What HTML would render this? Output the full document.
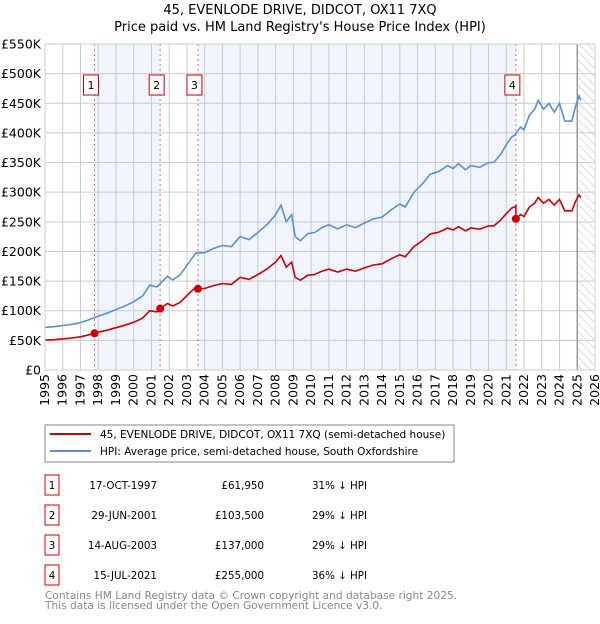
<!DOCTYPE html>
<html><head><meta charset="utf-8"><style>
body{margin:0;background:#fff;font-family:"DejaVu Sans","Liberation Sans",sans-serif;}
svg text{font-family:"DejaVu Sans","Liberation Sans",sans-serif;}
</style></head><body>
<svg id="c" width="600" height="620" xmlns="http://www.w3.org/2000/svg">
<defs><pattern id="hatch" width="6" height="6" patternUnits="userSpaceOnUse" patternTransform="rotate(-45)"><line x1="0" y1="0" x2="0" y2="6" stroke="#bbb" stroke-width="1"/></pattern></defs>
<text x="300" y="14" text-anchor="middle" font-size="13" fill="#000">45, EVENLODE DRIVE, DIDCOT, OX11 7XQ</text>
<text x="300" y="31" text-anchor="middle" font-size="13" fill="#000">Price paid vs. HM Land Registry's House Price Index (HPI)</text>
<g id="plot"></g>
<rect x="45" y="425" width="409" height="37" fill="#fff" stroke="#888"/>
<line x1="50" y1="434" x2="91" y2="434" stroke="#cc0000" stroke-width="2"/>
<text x="100" y="438" font-size="10.5">45, EVENLODE DRIVE, DIDCOT, OX11 7XQ (semi-detached house)</text>
<line x1="50" y1="451" x2="91" y2="451" stroke="#5b8fd4" stroke-width="2"/>
<text x="100" y="455" font-size="10.5">HPI: Average price, semi-detached house, South Oxfordshire</text>
<g id="table" font-size="10.3"></g>
<text x="45" y="599" font-size="10.6" fill="#888">Contains HM Land Registry data © Crown copyright and database right 2025.</text>
<text x="45" y="609" font-size="10.6" fill="#888">This data is licensed under the Open Government Licence v3.0.</text>
</svg>
<script>
const hpiYears=[1995,1995.5,1996,1996.5,1997,1997.5,1998,1998.5,1999,1999.5,2000,2000.5,2000.9,2001.3,2001.9,2002.2,2002.6,2003.2,2003.5,2004,2004.5,2005,2005.5,2006,2006.5,2007,2007.5,2008,2008.3,2008.6,2008.9,2009.1,2009.4,2009.8,2010.2,2010.6,2011,2011.5,2012,2012.5,2013,2013.5,2014,2014.5,2015,2015.3,2015.8,2016.3,2016.7,2017.2,2017.7,2018,2018.3,2018.7,2019,2019.5,2020,2020.3,2020.7,2021,2021.3,2021.5,2021.8,2022,2022.3,2022.6,2022.8,2023.1,2023.4,2023.7,2024,2024.3,2024.7,2024.9,2025.1,2025.2];
const hpiValues=[72,73,75,77,80,85,91,96,102,108,115,125,143,140,158,152,160,185,197,198,205,210,208,225,220,232,245,262,278,250,262,225,218,230,232,240,245,238,245,240,248,255,258,270,280,275,300,315,330,335,345,340,348,338,345,342,350,350,365,380,393,397,410,405,430,440,455,440,450,435,450,420,420,445,462,455];
const saleDates=[1997.79,2001.49,2003.62,2021.54];
const salePrices=[61950,103500,137000,255000];
const saleLabels=["1","2","3","4"];
const saleDateText=["17-OCT-1997","29-JUN-2001","14-AUG-2003","15-JUL-2021"];
const salePriceText=["£61,950","£103,500","£137,000","£255,000"];
const saleHpiText=["31% ↓ HPI","29% ↓ HPI","29% ↓ HPI","36% ↓ HPI"];
const yTicks=[0,50000,100000,150000,200000,250000,300000,350000,400000,450000,500000,550000];
const yTickLabels=["£0","£50K","£100K","£150K","£200K","£250K","£300K","£350K","£400K","£450K","£500K","£550K"];
const xTicks=[1995,1996,1997,1998,1999,2000,2001,2002,2003,2004,2005,2006,2007,2008,2009,2010,2011,2012,2013,2014,2015,2016,2017,2018,2019,2020,2021,2022,2023,2024,2025,2026];

const NS="http://www.w3.org/2000/svg";
const X0=45,X1=595,Y0=370,Y1=44;
const x=t=>X0+(t-1995)*(X1-X0)/31;
const y=v=>Y0-v*(Y0-Y1)/550000;
const plot=document.getElementById('plot');
function mk(tag,attrs,parent){const e=document.createElementNS(NS,tag);for(const k in attrs)e.setAttribute(k,attrs[k]);(parent||plot).appendChild(e);return e;}
function hpiAt(t){for(let i=1;i<hpiYears.length;i++){if(t<=hpiYears[i]){const f=(t-hpiYears[i-1])/(hpiYears[i]-hpiYears[i-1]);return (hpiValues[i-1]+f*(hpiValues[i]-hpiValues[i-1]))*1000;}}return hpiValues[hpiValues.length-1]*1000;}

mk('rect',{x:X0,y:Y1,width:X1-X0,height:Y0-Y1,fill:'#fff'});
for(let i=0;i<saleDates.length;i+=2){const e=i+1<saleDates.length?saleDates[i+1]:2025;
const r=mk('rect',{x:x(saleDates[i]),y:Y1,width:x(e)-x(saleDates[i]),height:Y0-Y1,fill:'#f0f4fd'});

}
const h=mk('rect',{x:x(2025),y:Y1,width:X1-x(2025),height:Y0-Y1,fill:'url(#hatch)'});


xTicks.forEach(t=>{mk('line',{x1:x(t),y1:Y1,x2:x(t),y2:Y0,stroke:'#ccc'});
const tx=mk('text',{x:0,y:0,transform:`translate(${x(t)+4},${Y0+4}) rotate(-90)`,'text-anchor':'end','font-size':12.5});tx.textContent=t;

});
yTicks.forEach((v,i)=>{mk('line',{x1:X0,y1:y(v),x2:X1,y2:y(v),stroke:'#ccc'});
const tx=mk('text',{x:X0-4,y:y(v)+4.5,'text-anchor':'end','font-size':12.5});tx.textContent=yTickLabels[i];

});
mk('line',{x1:x(2025),y1:Y1,x2:x(2025),y2:Y0,stroke:'#999','stroke-width':1.5});
saleDates.forEach((d,i)=>{
 const l=mk('line',{x1:x(d),y1:Y1,x2:x(d),y2:Y0,stroke:'#e66','stroke-dasharray':'2,3'});
 
 
 const b=mk('rect',{x:x(d)-11,y:75,width:15,height:20,fill:'#fff',stroke:'#cc0000'});
 
 
 const t=mk('text',{x:x(d)-3.5,y:89,'text-anchor':'middle','font-size':11});t.textContent=saleLabels[i];
 
 
});
let p='';hpiYears.forEach((t,i)=>{p+=(i?'L':'M')+x(t).toFixed(1)+','+y(hpiValues[i]*1000).toFixed(1);});
const hl=mk('path',{d:p,fill:'none',stroke:'#5b8fd4','stroke-width':1.6});


const ratios=saleDates.map((d,i)=>salePrices[i]/hpiAt(d));
function ratioAt(t){let r=ratios[0];saleDates.forEach((d,i)=>{if(t>=d)r=ratios[i];});return r;}
let pts=[];hpiYears.forEach((t,i)=>{pts.push([t,hpiValues[i]*1000*ratioAt(t)]);});
saleDates.forEach((d,i)=>{pts.push([d-0.001,hpiAt(d)*(i?ratios[i-1]:ratios[0])]);pts.push([d,salePrices[i]]);});
pts.sort((a,b)=>a[0]-b[0]);
p='';pts.forEach((q,i)=>{p+=(i?'L':'M')+x(q[0]).toFixed(1)+','+y(q[1]).toFixed(1);});
const pl=mk('path',{d:p,fill:'none',stroke:'#cc0000','stroke-width':1.6});


saleDates.forEach((d,i)=>{const c=mk('circle',{cx:x(d),cy:y(salePrices[i]),r:4,fill:'#cc0000'});

});
mk('rect',{x:X0,y:Y1,width:X1-X0,height:Y0-Y1,fill:'none',stroke:'#ccc'});
const tb=document.getElementById('table');
saleDates.forEach((d,i)=>{const yy=488+i*30;
 const b=mk('rect',{x:45,y:yy-13,width:14,height:20,fill:'#fff',stroke:'#cc0000'},tb);
 
 
 const n=mk('text',{x:52,y:yy+1,'text-anchor':'middle'},tb);n.textContent=saleLabels[i];
 
 
 const a=mk('text',{x:157,y:yy+1,'text-anchor':'end'},tb);a.textContent=saleDateText[i];
 
 
 const pr=mk('text',{x:264,y:yy+1,'text-anchor':'end'},tb);pr.textContent=salePriceText[i];
 
 
 const hp=mk('text',{x:312,y:yy+1},tb);hp.textContent=saleHpiText[i];
 
 
});
</script>
</body></html>
